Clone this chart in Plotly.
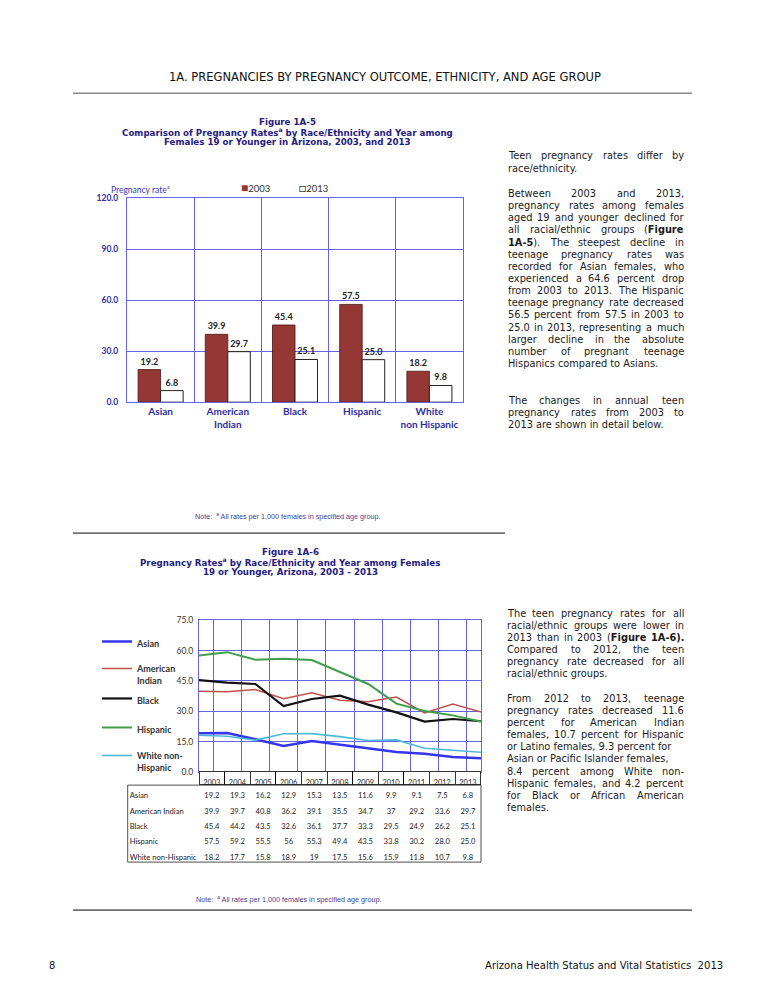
import plotly.graph_objects as go

W, H = 765, 989
# mapping from target picture pixels to paper coordinates (compensates the viewer offset)
def X(px): return (px - 8) / W
def Y(py): return 1 - ((py - 12.8) / 0.99) / H

# ---------------- Figure 1A-5 data ----------------
categories = ["Asian", "American<br>Indian", "Black", "Hispanic", "White<br>non Hispanic"]
bar_years = ["2003", "2013"]
rate_2003 = [19.2, 39.9, 45.4, 57.5, 18.2]
rate_2013 = [6.8, 29.7, 25.1, 25.0, 9.8]

# ---------------- Figure 1A-6 data ----------------
years = ["2003", "2004", "2005", "2006", "2007", "2008", "2009", "2010", "2011", "2012", "2013"]
asian = ["19.2", "19.3", "16.2", "12.9", "15.3", "13.5", "11.6", "9.9", "9.1", "7.5", "6.8"]
american_indian = ["39.9", "39.7", "40.8", "36.2", "39.1", "35.5", "34.7", "37", "29.2", "33.6", "29.7"]
black = ["45.4", "44.2", "43.5", "32.6", "36.1", "37.7", "33.3", "29.5", "24.9", "26.2", "25.1"]
hispanic = ["57.5", "59.2", "55.5", "56", "55.3", "49.4", "43.5", "33.8", "30.2", "28.0", "25.0"]
white_non_hispanic = ["18.2", "17.7", "15.8", "18.9", "19", "17.5", "15.6", "15.9", "11.8", "10.7", "9.8"]
series_names = ["Asian", "American Indian", "Black", "Hispanic", "White non-Hispanic"]
legend_labels = ["Asian", "American<br>Indian", "Black", "Hispanic", "White non-<br>Hispanic"]
series_values = [asian, american_indian, black, hispanic, white_non_hispanic]
line_colors = ["#3535F0", "#C0504D", "#111111", "#3F9E48", "#4DB8DA"]
line_widths = [2.5, 1.5, 2.2, 2, 1.6]

BLUE_TXT = "#2E2E9E"
GRID = "#6464E4"
TITLE = "#1F2080"

fig = go.Figure()

# ---------- bar chart ----------
fig.add_trace(go.Bar(x=categories, y=rate_2003, name=bar_years[0], xaxis="x", yaxis="y",
                     marker=dict(color="#953735", line=dict(color="#4a1514", width=0.8)),
                     texttemplate="%{y:.1f}", textposition="outside", cliponaxis=False,
                     textfont=dict(family="Lato", size=9, color="#222222", weight="bold"),
                     showlegend=False))
fig.add_trace(go.Bar(x=categories, y=rate_2013, name=bar_years[1], xaxis="x", yaxis="y",
                     marker=dict(color="white", line=dict(color="#222222", width=1)),
                     texttemplate="%{y:.1f}", textposition="outside", cliponaxis=False,
                     textfont=dict(family="Lato", size=9, color="#222222", weight="bold"),
                     showlegend=False))

# ---------- line chart ----------
legend_tops = [641, 668, 698, 727, 755]
for i, (lab, vals) in enumerate(zip(legend_labels, series_values)):
    lg = "legend" if i == 0 else f"legend{i+1}"
    fig.add_trace(go.Scatter(x=years, y=[float(v) for v in vals], name=lab, mode="lines",
                             line=dict(color=line_colors[i], width=line_widths[i]),
                             xaxis="x2", yaxis="y2", legend=lg, showlegend=True))

# ---------- data table ----------
table_labels = [s.replace(" ", "\u00a0") for s in series_names]
table_cols = [[vals[j] for vals in series_values] for j in range(len(years))]
CLEAR = "rgba(0,0,0,0)"
fig.add_trace(go.Table(
    domain=dict(x=[X(121.7), X(481)], y=[Y(863), Y(771)]),
    columnwidth=[77.3] + [25.6] * len(years),
    header=dict(values=[""] + years, height=13.5, fill_color=[CLEAR] + ["white"] * len(years),
                line=dict(color=[CLEAR] + ["black"] * len(years), width=0.8),
                font=dict(family="Lato", size=7.4, color="#222222"), align="center"),
    cells=dict(values=[table_labels] + table_cols, height=15.3, fill_color="white",
               line=dict(color="white", width=0.5),
               font=dict(family="Lato", size=7.6, color="#222222"),
               align=["left"] + ["center"] * len(years)),
))

layout = dict(
    width=W, height=H, margin=dict(l=0, r=0, t=0, b=0),
    paper_bgcolor="white", plot_bgcolor="white",
    barmode="group", bargap=0.33, bargroupgap=0,
    xaxis=dict(domain=[X(127), X(463)], anchor="y", type="category", tickson="boundaries",
               showgrid=True, gridcolor=GRID, gridwidth=1, showline=True, mirror=True,
               linecolor=GRID, linewidth=1, ticks="",
               tickfont=dict(family="Lato", size=10, color=BLUE_TXT, weight="bold")),
    yaxis=dict(domain=[Y(402), Y(198)], anchor="x", range=[0, 120], dtick=30, tickformat=".1f",
               showgrid=True, gridcolor=GRID, gridwidth=1, showline=True, mirror=True,
               linecolor=GRID, linewidth=1, ticks="", zeroline=False, ticklabelstandoff=6,
               tickfont=dict(family="Lato", size=8.5, color=BLUE_TXT, weight="bold")),
    xaxis2=dict(domain=[X(199), X(481)], anchor="y2", type="category", tickson="boundaries",
                showgrid=True, gridcolor=GRID, gridwidth=1, showline=True, mirror=True,
                linecolor=GRID, linewidth=1, ticks="", showticklabels=False),
    yaxis2=dict(domain=[Y(772), Y(620)], anchor="x2", range=[0, 75], dtick=15, tickformat=".1f",
                showgrid=True, gridcolor=GRID, gridwidth=1, showline=True, mirror=True,
                linecolor=GRID, linewidth=1, ticks="", zeroline=False, ticklabelstandoff=3,
                tickfont=dict(family="Lato", size=8.5, color="#333333")),
)
for i, top in enumerate(legend_tops):
    key = "legend" if i == 0 else f"legend{i+1}"
    layout[key] = dict(x=X(97), y=Y(top - 12), xanchor="left", yanchor="top", valign="top",
                       bgcolor="rgba(0,0,0,0)", borderwidth=0, itemwidth=30,
                       font=dict(family="Lato", size=9, color="#333333", weight="bold"))
fig.update_layout(**layout)

ann = []
def A(text, x, y, size, color="#1a1a1a", family="DejaVu Sans", xanchor="center", weight=None):
    f = dict(family=family, size=size, color=color)
    if weight:
        f["weight"] = weight
    ann.append(dict(text=text, x=X(x), y=Y(y), xref="paper", yref="paper", showarrow=False,
                    xanchor=xanchor, yanchor="middle", borderpad=0, borderwidth=0, font=f))

# page header / footer
A("1A. PREGNANCIES BY PREGNANCY OUTCOME, ETHNICITY, AND AGE GROUP", 385, 76, 12.8,
  color="#111111", family="DejaVu Sans Condensed")
A("8", 49, 965, 11, color="#111111", family="DejaVu Sans Condensed", xanchor="left")
A("Arizona Health Status and Vital Statistics  2013", 723, 965, 11.2, color="#111111",
  family="DejaVu Sans Condensed", xanchor="right")

# figure titles
A("<b>Figure 1A-5</b>", 287, 121.7, 8.7, color=TITLE)
A("<b>Comparison of Pregnancy Rates<sup>a</sup> by Race/Ethnicity and Year among</b>", 287, 132, 8.7, color=TITLE)
A("<b>Females 19 or Younger in Arizona, 2003, and 2013</b>", 287, 142.3, 8.7, color=TITLE)
A("<b>Figure 1A-6</b>", 290, 552, 8.7, color=TITLE)
A("<b>Pregnancy Rates<sup>a</sup> by Race/Ethnicity and Year among Females</b>", 290, 562, 8.7, color=TITLE)
A("<b>19 or Younger, Arizona, 2003 - 2013</b>", 290, 572, 8.7, color=TITLE)

# bar chart labels and legend
A("Pregnancy rate<sup>a</sup>", 111, 189, 8.5, color="#3A3AB0", family="Lato", xanchor="left")
A('<span style="color:#953735;font-size:12px">■</span>' + bar_years[0], 241, 187, 9.5,
  color="#333333", family="Lato", xanchor="left")
A('<span style="font-size:12px">□</span>' + bar_years[1], 299, 187, 9.5,
  color="#333333", family="Lato", xanchor="left")

note = "Note:  <sup>a</sup> All rates per 1,000 females in specified age group."
A(note, 195, 516, 7.2, color="#3F3F8F", family="Liberation Sans", xanchor="left")
A(note, 196, 899, 7.2, color="#3F3F8F", family="Liberation Sans", xanchor="left")

# ---------- right-column body text (justified) ----------
DV = {' ': 651, '!': 821, '(': 799, ')': 799, ',': 651, '-': 739, '.': 651, '/': 690, ':': 690,
      'A': 1401, 'B': 1405, 'C': 1430, 'D': 1577, 'E': 1294, 'F': 1178, 'G': 1587, 'H': 1540,
      'I': 604, 'J': 604, 'K': 1343, 'L': 1141, 'M': 1767, 'N': 1532, 'O': 1612, 'P': 1235,
      'Q': 1612, 'R': 1423, 'S': 1300, 'T': 1251, 'U': 1499, 'V': 1401, 'W': 2025, 'X': 1403,
      'Y': 1251, 'Z': 1403, 'a': 1255, 'b': 1300, 'c': 1126, 'd': 1300, 'e': 1260, 'f': 721,
      'g': 1300, 'h': 1298, 'i': 569, 'j': 569, 'k': 1186, 'l': 569, 'm': 1995, 'n': 1298,
      'o': 1253, 'p': 1300, 'q': 1300, 'r': 842, 's': 1067, 't': 803, 'u': 1298, 'v': 1212,
      'w': 1675, 'x': 1212, 'y': 1212, 'z': 1075}
for d in "0123456789":
    DV[d] = 1303

def text_w(s, size):
    bold, i, tot = False, 0, 0.0
    while i < len(s):
        if s.startswith("<b>", i):
            bold = True; i += 3; continue
        if s.startswith("</b>", i):
            bold = False; i += 4; continue
        tot += DV.get(s[i], 1250) * (1.12 if bold else 1.0)
        i += 1
    return tot / 2048 * size * 1.01

BODY = 9.8
def paragraph(lines, y0, step, x0=508, x1=684, size=BODY):
    for k, (txt, just) in enumerate(lines):
        y = y0 + k * step
        if not just:
            A(txt, x0, y, size, xanchor="left")
            continue
        words = txt.split(" ")
        widths = [text_w(w, size) for w in words]
        gap = (x1 - x0 - sum(widths)) / (len(words) - 1)
        x = x0
        for j, w in enumerate(words):
            if j == len(words) - 1:
                A(w, x1, y, size, xanchor="right")
            else:
                A(w, x, y, size, xanchor="left")
            x += widths[j] + gap

paragraph([("Teen pregnancy rates differ by", True), ("race/ethnicity.", False)], 155.7, 12.2)
paragraph([
    ("Between 2003 and 2013,", True),
    ("pregnancy rates among females", True),
    ("aged 19 and younger declined for", True),
    ("all racial/ethnic groups (<b>Figure</b>", True),
    ("<b>1A-5</b>). The steepest decline in", True),
    ("teenage pregnancy rates was", True),
    ("recorded for Asian females, who", True),
    ("experienced a 64.6 percent drop", True),
    ("from 2003 to 2013. The Hispanic", True),
    ("teenage pregnancy rate decreased", True),
    ("56.5 percent from 57.5 in 2003 to", True),
    ("25.0 in 2013, representing a much", True),
    ("larger decline in the absolute", True),
    ("number of pregnant teenage", True),
    ("Hispanics compared to Asians.", False)], 193.3, 12.15)
paragraph([("The changes in annual teen", True), ("pregnancy rates from 2003 to", True),
           ("2013 are shown in detail below.", False)], 400, 12.1)
paragraph([
    ("The teen pregnancy rates for all", True),
    ("racial/ethnic groups were lower in", True),
    ("2013 than in 2003 (<b>Figure</b> <b>1A-6).</b>", True),
    ("Compared to 2012, the teen", True),
    ("pregnancy rate decreased for all", True),
    ("racial/ethnic groups.", False)], 613.3, 12.1, x0=507)
paragraph([
    ("From 2012 to 2013, teenage", True),
    ("pregnancy rates decreased 11.6", True),
    ("percent for American Indian", True),
    ("females, 10.7 percent for Hispanic", True),
    ("or Latino females, 9.3 percent for", False),
    ("Asian or Pacific Islander females,", False),
    ("8.4 percent among White non-", True),
    ("Hispanic females, and 4.2 percent", True),
    ("for Black or African American", True),
    ("females.", False)], 698.3, 12.1, x0=507)

shapes = [
    dict(type="line", xref="paper", yref="paper", x0=X(73), x1=X(692), y0=Y(93), y1=Y(93),
         line=dict(color="#8a8a8a", width=1.6)),
    dict(type="line", xref="paper", yref="paper", x0=X(73), x1=X(505), y0=Y(533), y1=Y(533),
         line=dict(color="#707070", width=1.6)),
    dict(type="line", xref="paper", yref="paper", x0=X(73), x1=X(692), y0=Y(910), y1=Y(910),
         line=dict(color="#707070", width=1.6)),
    dict(type="rect", xref="paper", yref="paper", x0=X(127.7), x1=X(481), y0=Y(862), y1=Y(785),
         line=dict(color="#222222", width=0.8)),
]
fig.update_layout(annotations=ann, shapes=shapes)

fig.write_html("out.html")
